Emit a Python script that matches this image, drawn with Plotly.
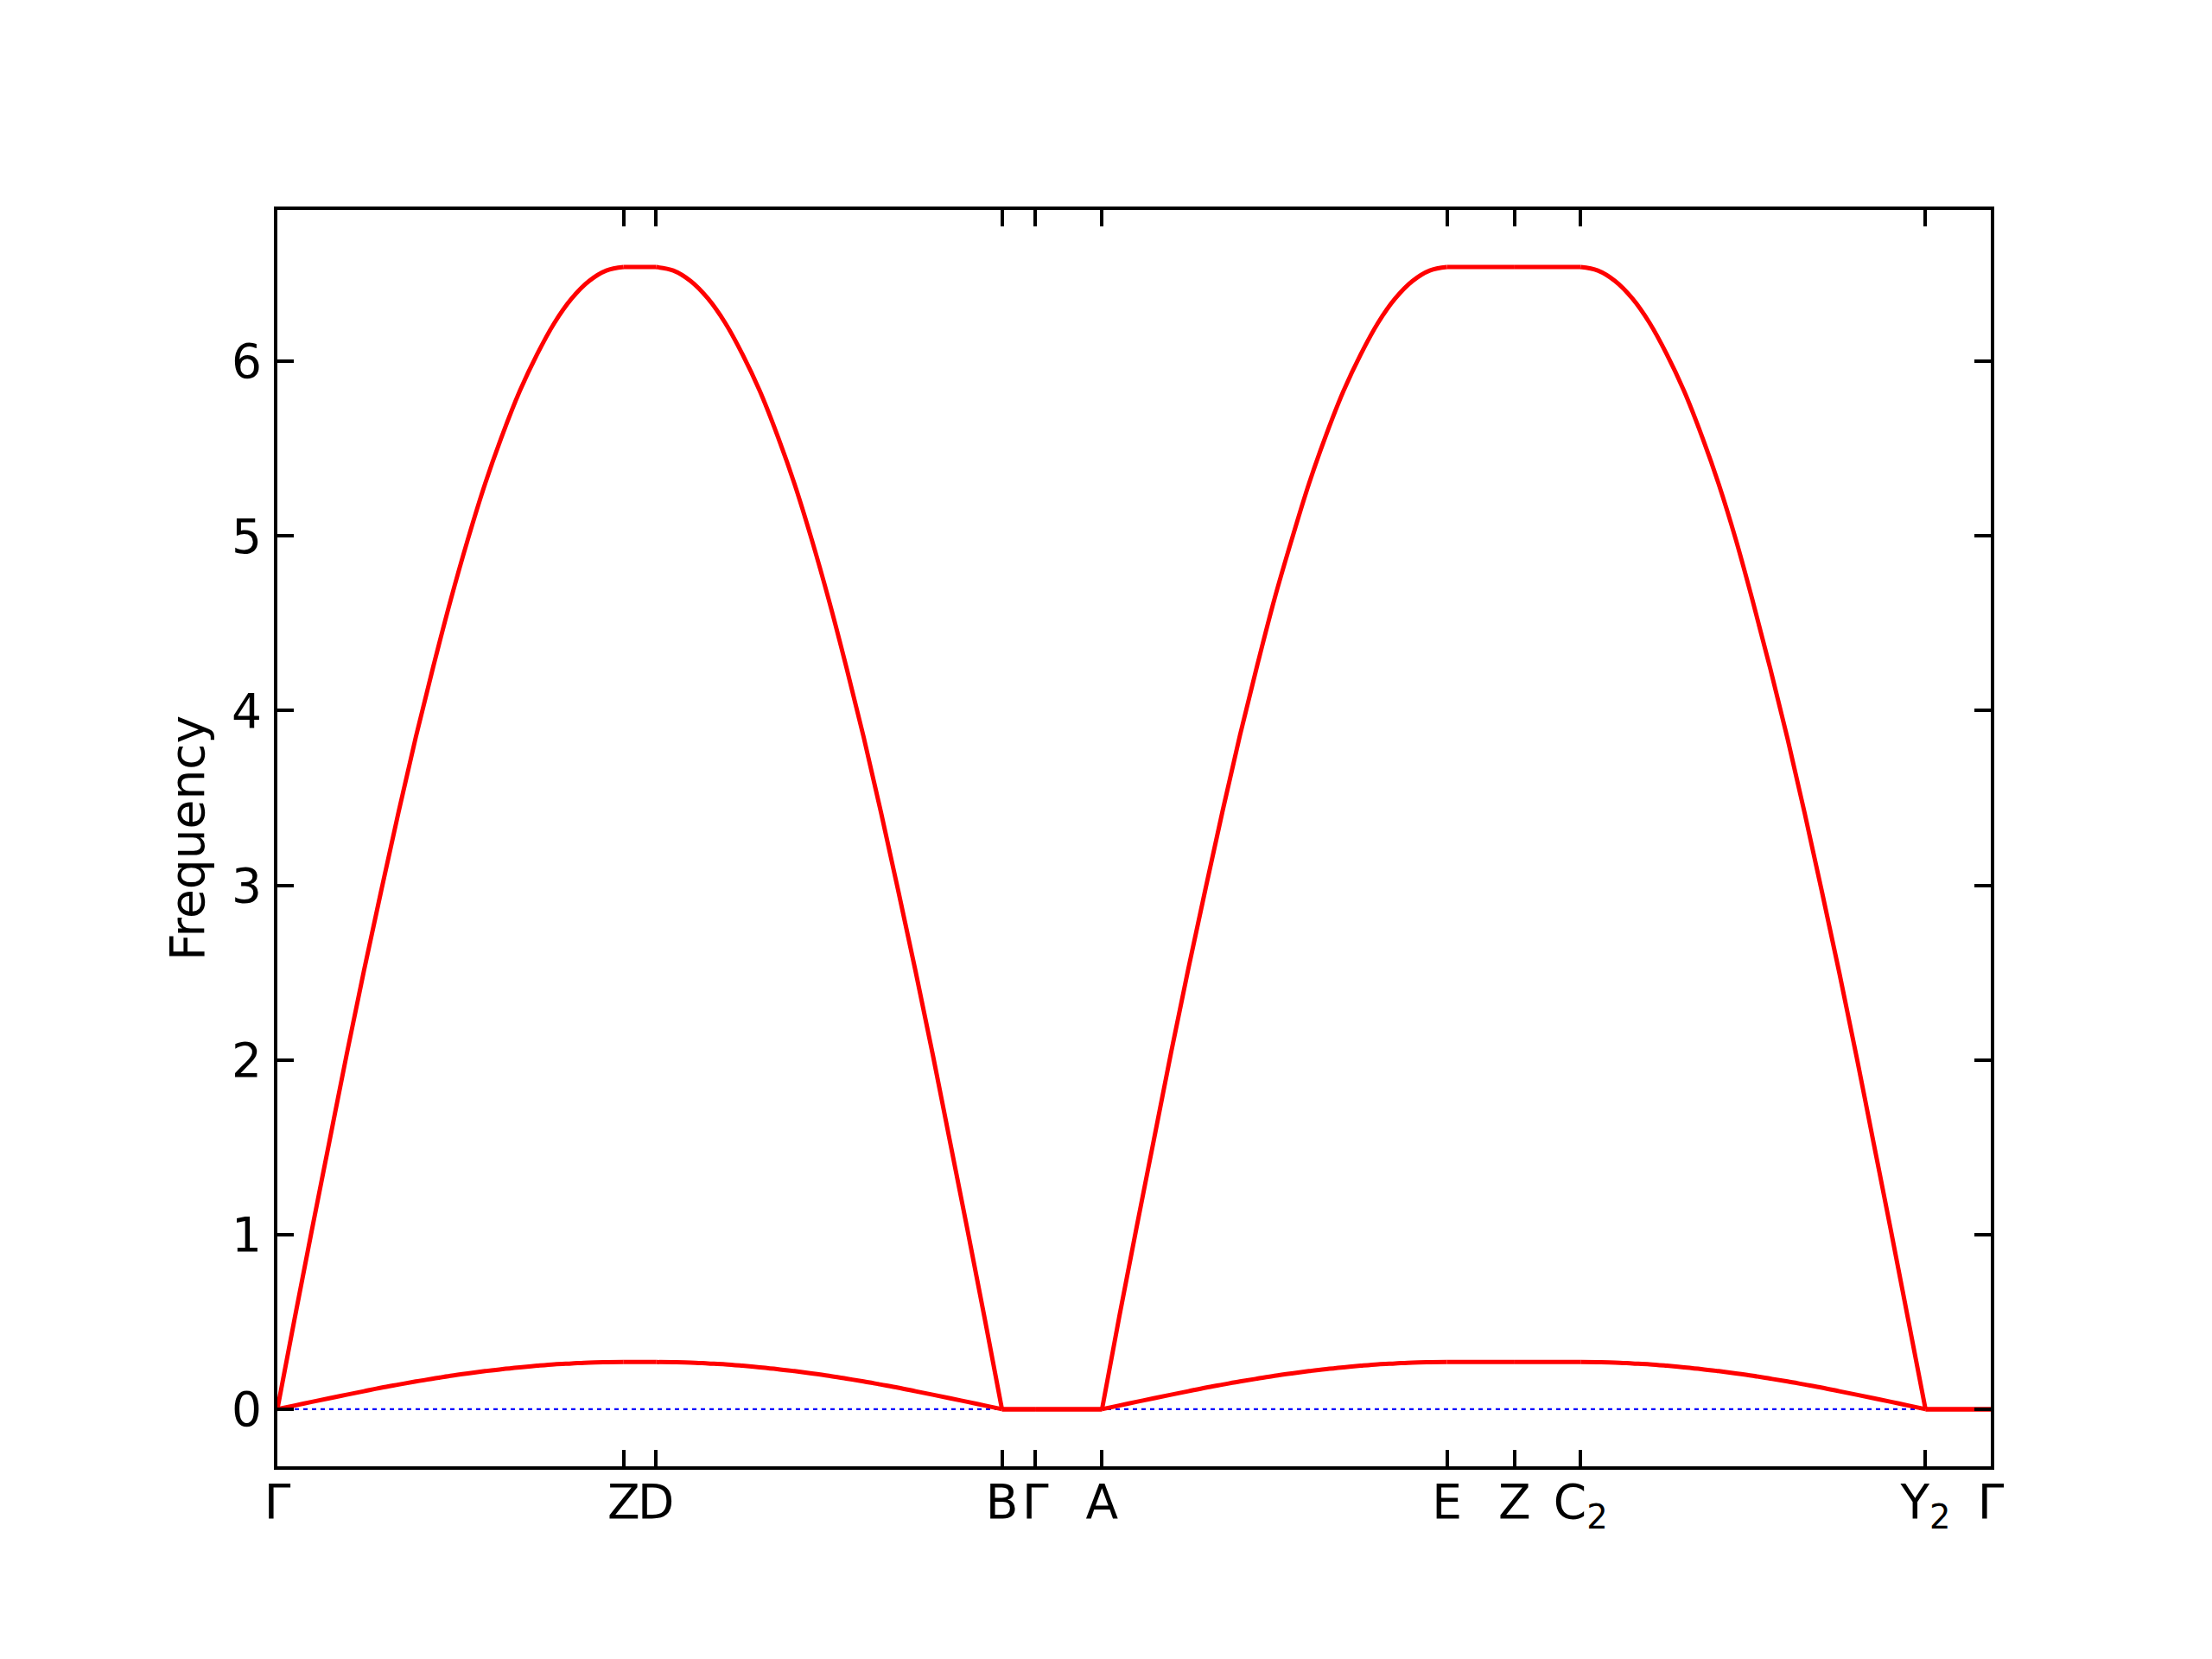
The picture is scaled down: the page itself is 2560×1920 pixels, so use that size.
import plotly.graph_objects as go

# High-symmetry path: tick positions (fraction of path length) and labels
kpt_pos = [0.0, 0.2021, 0.2210, 0.4229, 0.4424, 0.4813, 0.6826, 0.7221, 0.7606, 0.9619, 1.0]
kpt_labels = ["Γ", "Z", "D", "B", "Γ", "A", "E", "Z", "C<sub>2</sub>", "Y<sub>2</sub>", "Γ"]

# sampling fractions inside each long segment
seg_t = [0.0, 0.05, 0.1, 0.15, 0.2, 0.25, 0.3, 0.35, 0.4, 0.45, 0.5,
         0.55, 0.6, 0.65, 0.7, 0.75, 0.8, 0.85, 0.9, 0.95, 1.0]

# upper (optical-like) band
upper_GZ = [0.0, 0.52, 1.03, 1.53, 2.03, 2.51, 2.97, 3.42, 3.85, 4.25, 4.63,
            4.98, 5.30, 5.58, 5.83, 6.04, 6.22, 6.36, 6.46, 6.52, 6.54]
upper_DB = [6.54, 6.52, 6.46, 6.36, 6.22, 6.04, 5.83, 5.58, 5.30, 4.98, 4.63,
            4.25, 3.85, 3.42, 2.97, 2.51, 2.03, 1.53, 1.03, 0.52, 0.0]
upper_AE = [0.0, 0.53, 1.04, 1.54, 2.04, 2.52, 2.98, 3.43, 3.86, 4.26, 4.64,
            4.98, 5.30, 5.58, 5.83, 6.04, 6.22, 6.36, 6.46, 6.52, 6.54]
upper_C2Y2 = [6.54, 6.52, 6.46, 6.36, 6.22, 6.04, 5.83, 5.58, 5.30, 4.98, 4.62,
              4.24, 3.84, 3.41, 2.96, 2.50, 2.02, 1.52, 1.02, 0.51, 0.0]
upper_top = 6.54

# lower (acoustic-like) band
lower_GZ = [0.0, 0.021, 0.042, 0.063, 0.083, 0.103, 0.123, 0.141, 0.159, 0.175, 0.191,
            0.205, 0.218, 0.230, 0.240, 0.249, 0.257, 0.262, 0.267, 0.269, 0.270]
lower_DB = [0.270, 0.269, 0.267, 0.262, 0.257, 0.249, 0.240, 0.230, 0.218, 0.205, 0.191,
            0.175, 0.159, 0.141, 0.123, 0.103, 0.083, 0.063, 0.042, 0.021, 0.0]
lower_AE = [0.0, 0.021, 0.042, 0.063, 0.083, 0.103, 0.123, 0.141, 0.159, 0.175, 0.191,
            0.205, 0.218, 0.230, 0.240, 0.249, 0.257, 0.262, 0.267, 0.269, 0.270]
lower_C2Y2 = [0.270, 0.269, 0.267, 0.262, 0.257, 0.249, 0.240, 0.230, 0.218, 0.205, 0.191,
              0.175, 0.159, 0.141, 0.123, 0.103, 0.083, 0.063, 0.042, 0.021, 0.0]
lower_top = 0.270

y_ticks = [0, 1, 2, 3, 4, 5, 6]
y_range = [-0.327, 6.867]


def band_segments(rise1, fall1, rise2, fall2, top):
    """Return list of (xs, ys) per path segment."""
    seg_vals = [rise1, [top, top], fall1, [0.0, 0.0], [0.0, 0.0],
                rise2, [top, top], [top, top], fall2, [0.0, 0.0]]
    out = []
    for i, vals in enumerate(seg_vals):
        a, b = kpt_pos[i], kpt_pos[i + 1]
        ts = seg_t if len(vals) == len(seg_t) else [0.0, 1.0]
        out.append(([a + (b - a) * t for t in ts], list(vals)))
    return out


FONT = "DejaVu Sans"

fig = go.Figure()
fig.add_trace(go.Scatter(x=[kpt_pos[0], kpt_pos[-1]], y=[0, 0], mode="lines",
                         line=dict(color="blue", width=2.2, dash="5px,5px"),
                         showlegend=False, hoverinfo="skip"))

for band in (band_segments(lower_GZ, lower_DB, lower_AE, lower_C2Y2, lower_top),
             band_segments(upper_GZ, upper_DB, upper_AE, upper_C2Y2, upper_top)):
    for xs, ys in band:
        fig.add_trace(go.Scatter(x=xs, y=ys, mode="lines",
                                 line=dict(color="red", width=5, shape="spline", smoothing=1.0),
                                 showlegend=False))

axis_common = dict(
    showline=True, linecolor="black", linewidth=4, mirror="allticks",
    ticks="inside", ticklen=19, tickwidth=4, tickcolor="black",
    showgrid=False, zeroline=False,
    tickfont=dict(family=FONT, size=55, color="black"),
)

fig.update_layout(
    width=2560, height=1920,
    margin=dict(l=313, r=264, t=235, b=231),
    paper_bgcolor="white", plot_bgcolor="white",
    font=dict(family=FONT, size=55, color="black"),
    xaxis=dict(range=[0, 1], tickmode="array", tickvals=kpt_pos, ticktext=kpt_labels,
               tickangle=0, ticklabelstandoff=-10, **axis_common),
    yaxis=dict(range=y_range, tickmode="array", tickvals=y_ticks,
               ticktext=[str(v) for v in y_ticks], ticklabelstandoff=3,
               title=dict(text="Frequency", font=dict(family=FONT, size=55), standoff=15),
               **axis_common),
)

fig.write_html("out.html")
